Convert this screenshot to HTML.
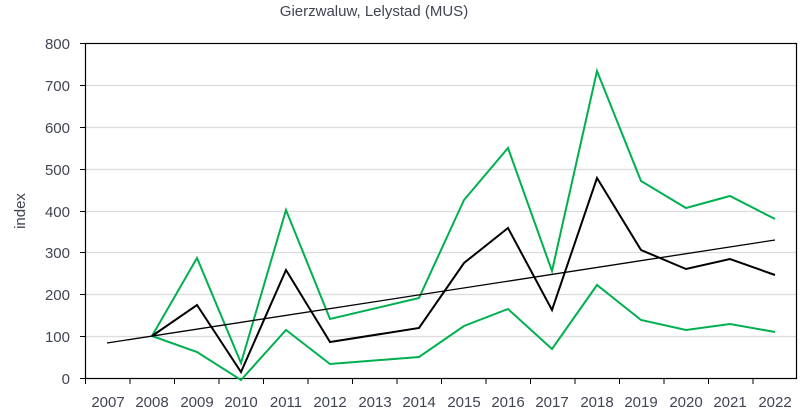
<!DOCTYPE html>
<html><head><meta charset="utf-8"><style>
body{margin:0;background:#fff;}
svg{display:block;font-family:"Liberation Sans",sans-serif;}
</style></head><body>
<svg width="810" height="418" viewBox="0 0 810 418">
<text x="374" y="16" font-size="15" fill="#404553" text-anchor="middle">Gierzwaluw, Lelystad (MUS)</text>
<g stroke="#dcdcdc" stroke-width="1.2">
<line x1="85" y1="85.5" x2="796" y2="85.5"/>
<line x1="85" y1="127.5" x2="796" y2="127.5"/>
<line x1="85" y1="169.5" x2="796" y2="169.5"/>
<line x1="85" y1="211.5" x2="796" y2="211.5"/>
<line x1="85" y1="252.5" x2="796" y2="252.5"/>
<line x1="85" y1="294.5" x2="796" y2="294.5"/>
<line x1="85" y1="336.5" x2="796" y2="336.5"/>
</g>
<rect x="85.5" y="43.5" width="711" height="335" fill="none" stroke="#000" stroke-width="1.2"/>
<g stroke="#000" stroke-width="1">
<line x1="80" y1="43.5" x2="85" y2="43.5"/><line x1="80" y1="85.5" x2="85" y2="85.5"/><line x1="80" y1="127.5" x2="85" y2="127.5"/><line x1="80" y1="169.5" x2="85" y2="169.5"/><line x1="80" y1="211.5" x2="85" y2="211.5"/><line x1="80" y1="252.5" x2="85" y2="252.5"/><line x1="80" y1="294.5" x2="85" y2="294.5"/><line x1="80" y1="336.5" x2="85" y2="336.5"/><line x1="80" y1="378.5" x2="85" y2="378.5"/>
<line x1="130" y1="378" x2="130" y2="384"/><line x1="174.5" y1="378" x2="174.5" y2="384"/><line x1="219" y1="378" x2="219" y2="384"/><line x1="263.5" y1="378" x2="263.5" y2="384"/><line x1="308" y1="378" x2="308" y2="384"/><line x1="352.5" y1="378" x2="352.5" y2="384"/><line x1="397" y1="378" x2="397" y2="384"/><line x1="441.5" y1="378" x2="441.5" y2="384"/><line x1="486" y1="378" x2="486" y2="384"/><line x1="530.5" y1="378" x2="530.5" y2="384"/><line x1="575" y1="378" x2="575" y2="384"/><line x1="619.5" y1="378" x2="619.5" y2="384"/><line x1="664" y1="378" x2="664" y2="384"/><line x1="708.5" y1="378" x2="708.5" y2="384"/><line x1="753" y1="378" x2="753" y2="384"/><line x1="85.5" y1="378" x2="85.5" y2="384"/>
</g>
<g font-size="15" fill="#404553" text-anchor="end">
<text x="70" y="49">800</text><text x="70" y="91">700</text><text x="70" y="133">600</text><text x="70" y="175">500</text><text x="70" y="217">400</text><text x="70" y="258">300</text><text x="70" y="300">200</text><text x="70" y="342">100</text><text x="70" y="384">0</text>
</g>
<text transform="translate(25,211) rotate(-90)" font-size="15" fill="#404553" text-anchor="middle">index</text>
<g font-size="15" fill="#404553" text-anchor="middle">
<text x="108" y="407">2007</text><text x="152" y="407">2008</text><text x="197" y="407">2009</text><text x="241" y="407">2010</text><text x="286" y="407">2011</text><text x="330" y="407">2012</text><text x="375" y="407">2013</text><text x="419" y="407">2014</text><text x="464" y="407">2015</text><text x="508" y="407">2016</text><text x="552" y="407">2017</text><text x="597" y="407">2018</text><text x="641" y="407">2019</text><text x="686" y="407">2020</text><text x="730" y="407">2021</text><text x="775" y="407">2022</text>
</g>
<polyline fill="none" stroke="#00b050" stroke-width="2" points="152,336 197,258 241,363 286,210 330,319 419,298 464,200 508,148 552,271 597,71 641,181 686,208 730,196 775,219"/>
<polyline fill="none" stroke="#00b050" stroke-width="2" points="152,336 197,352 241,380 286,330 330,364 419,357 464,326 508,309 552,349 597,285 641,320 686,330 730,324 775,332"/>
<line x1="107" y1="343" x2="775" y2="240" stroke="#000" stroke-width="1.3"/>
<polyline fill="none" stroke="#000" stroke-width="2" points="152,336 197,305 241,372 286,270 330,342 419,328 464,263 508,228 552,310 597,178 641,250 686,269 730,259 775,275"/>
</svg>
</body></html>
